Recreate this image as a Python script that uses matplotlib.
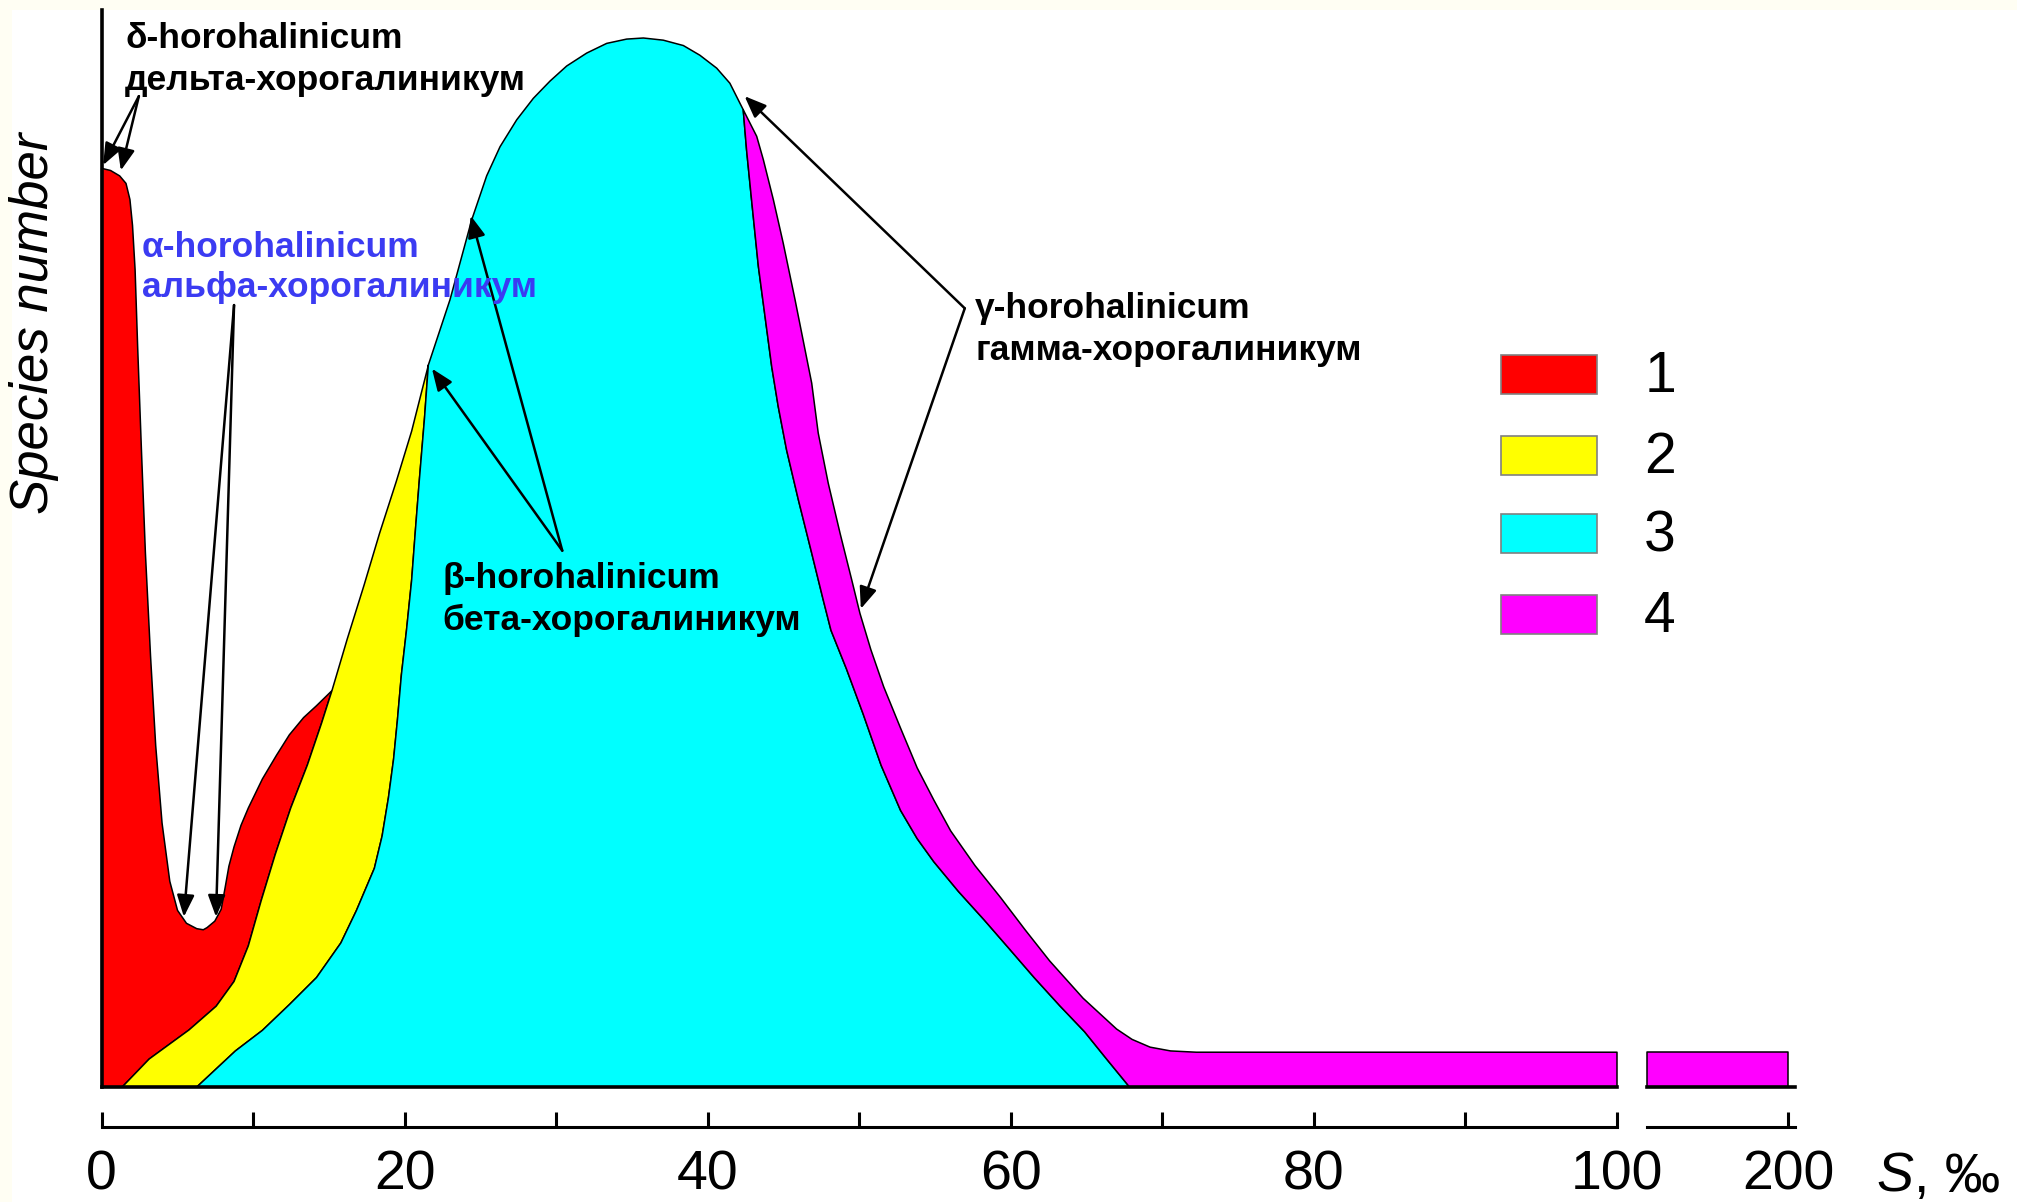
import matplotlib
matplotlib.use("Agg")
import matplotlib.pyplot as plt
from matplotlib import font_manager
from matplotlib.patches import Rectangle

# salinity S (per mille) and relative species number
red_top_s = [0, 0.59, 1.19, 1.61, 1.87, 2.04, 2.21, 2.38, 2.63, 2.89, 3.23, 3.57, 3.99, 4.50,
             5.01, 5.60, 6.28, 6.71, 6.96, 7.47, 7.89, 8.15, 8.40, 8.74, 9.20, 9.68, 10.61,
             11.54, 12.39, 13.33, 14.18, 15.20]
red_top_v = [85.3, 85.1, 84.6, 83.9, 82.4, 80.0, 75.9, 68.7, 59.1, 49.6, 40.0, 31.7, 24.5, 19.1,
             16.4, 15.2, 14.7, 14.6, 14.8, 15.4, 16.5, 18.5, 20.5, 22.3, 24.3, 25.9, 28.6,
             30.8, 32.7, 34.3, 35.4, 36.8]

# red / yellow boundary (bottom -> top)
b1_s = [1.36, 3.14, 5.77, 7.56, 8.74, 9.68, 10.53, 11.46, 12.48, 13.58, 14.52, 15.20]
b1_v = [0, 2.6, 5.3, 7.5, 9.8, 13.1, 17.3, 21.6, 25.9, 29.9, 33.8, 36.8]

yellow_top_s = [15.20, 16.21, 17.32, 18.34, 19.44, 20.46, 21.56]
yellow_top_v = [36.8, 41.6, 46.6, 51.4, 56.2, 60.9, 67.0]

# yellow / cyan boundary (bottom -> top)
b2_s = [6.28, 8.83, 10.61, 12.39, 14.18, 15.79, 16.81, 18.00, 18.51, 18.93, 19.27, 19.52,
        19.78, 20.12, 20.46, 20.71, 20.97, 21.31, 21.56]
b2_v = [0, 3.35, 5.26, 7.65, 10.16, 13.38, 16.37, 20.31, 23.30, 26.88, 30.47, 34.05,
        38.23, 42.41, 47.07, 51.73, 56.39, 62.13, 67.03]

cyan_top_s = [21.56, 22.99, 24.42, 25.41, 26.29, 27.39, 28.49, 29.59, 30.69, 32.01, 33.33,
              34.65, 35.75, 37.06, 38.39, 39.48, 40.59, 41.46, 42.34]
cyan_top_v = [67.0, 73.1, 80.5, 84.6, 87.3, 89.8, 91.8, 93.4, 94.8, 96.0, 96.9,
              97.3, 97.4, 97.2, 96.7, 95.8, 94.6, 93.2, 90.74]

# cyan / magenta boundary (top -> bottom)
b3_s = [42.34, 42.56, 42.89, 43.34, 43.78, 44.22, 44.65, 45.20, 45.98, 46.86, 47.62, 48.13,
        49.15, 50.25, 51.44, 52.72, 53.82, 54.92, 56.54, 58.23, 59.93, 61.54, 63.24, 64.86,
        66.30, 67.83]
b3_v = [90.74, 87.03, 82.38, 76.19, 71.54, 66.89, 63.19, 59.16, 54.52, 49.57, 45.23, 42.41,
        38.83, 34.65, 29.87, 25.69, 23.06, 20.91, 18.16, 15.53, 12.78, 10.16, 7.53, 5.14,
        2.63, 0]

magenta_top_s = [42.34, 43.23, 43.67, 44.33, 44.98, 45.76, 46.42, 46.86, 47.29, 47.95, 48.73,
                 49.50, 50.04, 50.76, 51.61, 52.72, 53.82, 54.92, 56.03, 57.64, 59.34, 60.95,
                 62.56, 64.77, 66.98, 68.00, 69.19, 70.54, 72.24, 100]
magenta_top_v = [90.74, 88.27, 86.09, 82.38, 78.35, 73.10, 68.45, 65.35, 60.72, 56.07, 51.42,
                 47.09, 43.99, 40.62, 37.16, 33.33, 29.63, 26.64, 23.78, 20.55, 17.56, 14.58,
                 11.71, 8.24, 5.38, 4.42, 3.70, 3.35, 3.23, 3.23]

magenta_tail_s = [100, 200]
magenta_tail_v = [3.23, 3.23]

main_ticks = [0, 10, 20, 30, 40, 50, 60, 70, 80, 90, 100]
main_tick_labels = ["0", "", "20", "", "40", "", "60", "", "80", "", "100"]
tail_ticks = [200]
tail_tick_labels = ["200"]

legend_labels = ["1", "2", "3", "4"]
colors = ["#FF0000", "#FFFF00", "#00FFFF", "#FF00FF"]
BLUE = "#3B3BF2"

W, H = 2017, 1202


def fx(x):
    return x / W


def fy(y):
    return 1 - y / H


def has_font(name):
    try:
        font_manager.findfont(font_manager.FontProperties(family=name), fallback_to_default=False)
        return True
    except Exception:
        return False


SANS = "Liberation Sans"
NARROW = "Liberation Sans Narrow" if has_font("Liberation Sans Narrow") else SANS
plt.rcParams["font.family"] = [SANS, "DejaVu Sans"]

fig = plt.figure(figsize=(W / 100, H / 100), dpi=100)
fig.patch.set_facecolor("#FFFEF3")
fig.add_artist(Rectangle((fx(12), 0), 1, fy(10), transform=fig.transFigure,
                         facecolor="white", edgecolor="none", zorder=-10))

bottom = fy(1087)
height = fy(10) - bottom
ax = fig.add_axes([fx(101.6), bottom, fx(1617) - fx(101.6), height])
ax2 = fig.add_axes([fx(1646.6), bottom, fx(1794.6) - fx(1646.6), height])

edge = dict(edgecolor="black", linewidth=1.1, clip_on=False, joinstyle="round")

red_x = [0] + red_top_s + b1_s[::-1]
red_y = [0] + red_top_v + b1_v[::-1]
ax.fill(red_x, red_y, facecolor=colors[0], **edge)

yel_x = b1_s + yellow_top_s[1:] + b2_s[::-1]
yel_y = b1_v + yellow_top_v[1:] + b2_v[::-1]
ax.fill(yel_x, yel_y, facecolor=colors[1], **edge)

cyan_x = b2_s + cyan_top_s[1:] + b3_s[1:]
cyan_y = b2_v + cyan_top_v[1:] + b3_v[1:]
ax.fill(cyan_x, cyan_y, facecolor=colors[2], **edge)

mag_x = b3_s + [100] + magenta_top_s[::-1]
mag_y = b3_v + [0] + magenta_top_v[::-1]
ax.fill(mag_x, mag_y, facecolor=colors[3], **edge)

tail_x = [magenta_tail_s[0], magenta_tail_s[1], magenta_tail_s[1], magenta_tail_s[0]]
tail_y = [0, 0, magenta_tail_v[1], magenta_tail_v[0]]
ax2.fill(tail_x, tail_y, facecolor=colors[3], **edge)

ax.set_xlim(0, 100)
ax2.set_xlim(100, 204.7)
for a in (ax, ax2):
    a.set_ylim(0, 100)
    a.set_facecolor("none")
    a.set_yticks([])
    a.axhline(0, color="black", linewidth=2.6, clip_on=False, zorder=5)
    a.spines["top"].set_visible(False)
    a.spines["right"].set_visible(False)
    a.spines["bottom"].set_position(("outward", 29))
    a.spines["bottom"].set_linewidth(2.2)
    a.tick_params(axis="x", direction="in", length=11, width=2.2, pad=16,
                  labelsize=40, colors="black")
ax.spines["left"].set_linewidth(2.6)
ax.spines["left"].set_zorder(6)
ax2.spines["left"].set_visible(False)
ax.set_xticks(main_ticks)
ax.set_xticklabels(main_tick_labels)
ax2.set_xticks(tail_ticks)
ax2.set_xticklabels(tail_tick_labels)

# annotation arrows: (start, tip) in data units
arrows = [((2.46, 92.0), (0.10, 85.6)), ((2.46, 92.0), (1.27, 85.1)),
          ((8.74, 72.6), (5.43, 15.8)), ((8.74, 72.6), (7.55, 15.8)),
          ((30.4, 49.8), (21.8, 66.7)), ((30.4, 49.8), (24.36, 80.9)),
          ((56.96, 72.3), (42.43, 92.0)), ((56.96, 72.3), (50.1, 44.4))]
for start, tip in arrows:
    ax.annotate("", xy=tip, xytext=start,
                arrowprops=dict(arrowstyle="-|>,head_length=0.55,head_width=0.22",
                                mutation_scale=24, color="black", lw=1.8,
                                shrinkA=0, shrinkB=0), zorder=7)

labels = [
    ("δ-horohalinicum", 125, 48, "black", SANS, 25.5),
    ("дельта-хорогалиникум", 125, 90, "black", SANS, 25.5),
    ("α-horohalinicum", 142, 257, BLUE, SANS, 25.5),
    ("альфа-хорогалиникум", 142, 297, BLUE, SANS, 25.5),
    ("β-horohalinicum", 442, 588, "black", SANS, 25.5),
    ("бета-хорогалиникум", 442, 630, "black", SANS, 25.5),
    ("γ-horohalinicum", 975, 318, "black", NARROW, 30 if NARROW != SANS else 25.5),
    ("гамма-хорогалиникум", 975, 360, "black", NARROW, 30 if NARROW != SANS else 25.5),
]
for text, x, y, col, fam, size in labels:
    fig.text(fx(x), fy(y), text, color=col, family=[fam, "DejaVu Sans"],
             fontsize=size, fontweight="bold", ha="left", va="baseline", zorder=8)

fig.text(fx(34), fy(323), "Species number", rotation=90, ha="center", va="center",
         style="italic", fontsize=38)
fig.text(fx(1876), fy(1192), "S", style="italic", fontsize=40, ha="left", va="baseline")
fig.text(fx(1914), fy(1192), ", ‰", fontsize=40, ha="left", va="baseline")

row_y = [374.5, 455, 533.5, 614]
for lab, col, yc in zip(legend_labels, colors, row_y):
    fig.add_artist(Rectangle((fx(1501), fy(yc + 19.5)), 96 / W, 39 / H,
                             transform=fig.transFigure, facecolor=col,
                             edgecolor="#808080", linewidth=1.2))
    fig.text(fx(1660), fy(yc + 3), lab, fontsize=41, ha="center", va="center")

fig.savefig("out.png", dpi=100, facecolor=fig.get_facecolor())
